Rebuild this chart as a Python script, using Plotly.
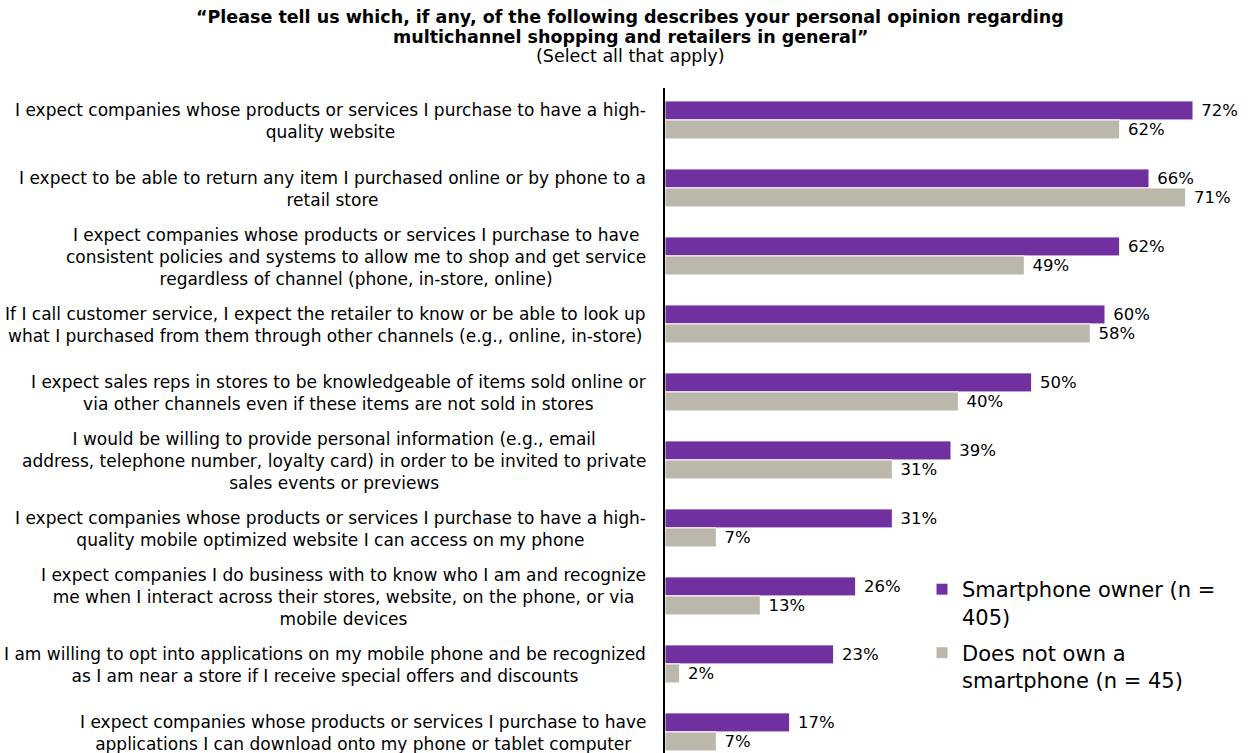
import plotly.graph_objects as go

# Survey statements (line breaks as laid out on the category axis)
statements = [
    "I expect companies whose products or services I purchase to have a high-<br>quality website",
    "I expect to be able to return any item I purchased online or by phone to a<br>retail store",
    "I expect companies whose products or services I purchase to have<br>consistent policies and systems to allow me to shop and get service<br>regardless of channel (phone, in-store, online)",
    "If I call customer service, I expect the retailer to know or be able to look up<br>what I purchased from them through other channels (e.g., online, in-store)",
    "I expect sales reps in stores to be knowledgeable of items sold online or<br>via other channels even if these items are not sold in stores",
    "I would be willing to provide personal information (e.g., email<br>address, telephone number, loyalty card) in order to be invited to private<br>sales events or previews",
    "I expect companies whose products or services I purchase to have a high-<br>quality mobile optimized website I can access on my phone",
    "I expect companies I do business with to know who I am and recognize<br>me when I interact across their stores, website, on the phone, or via<br>mobile devices",
    "I am willing to opt into applications on my mobile phone and be recognized<br>as I am near a store if I receive special offers and discounts",
    "I expect companies whose products or services I purchase to have<br>applications I can download onto my phone or tablet computer",
]

smartphone_owner = [72, 66, 62, 60, 50, 39, 31, 26, 23, 17]
no_smartphone = [62, 71, 49, 58, 40, 31, 7, 13, 2, 7]

series_names = ["Smartphone owner (n =<br>405)", "Does not own a<br>smartphone (n = 45)"]
series_colors = ["#7030A0", "#BBB8AB"]

title_lines = [
    "\u201cPlease tell us which, if any, of the following describes your personal opinion regarding",
    "multichannel shopping and retailers in general\u201d",
]
subtitle = "(Select all that apply)"

FONT = "DejaVu Sans"
W, H = 1255, 753
M_L, M_R, M_T, M_B = 665, 10, 88, 0
plot_w = W - M_L - M_R
plot_h = H - M_T - M_B

positions = list(range(len(statements)))

fig = go.Figure()
for k, (name, vals, color) in enumerate(zip(series_names, [smartphone_owner, no_smartphone], series_colors)):
    fig.add_trace(go.Bar(
        name=name,
        legendgroup=f"g{k}",
        y=positions,
        x=vals,
        orientation="h",
        marker=dict(color=color, line=dict(color="white", width=1)),
        text=[f" {v}%" for v in vals],
        textposition="outside",
        constraintext="none",
        cliponaxis=False,
        textfont=dict(family=FONT, size=16.5, color="#000000"),
        hoverinfo="skip",
    ))

# category labels, centred as blocks and right-aligned against the axis
for i, label in enumerate(statements):
    fig.add_annotation(
        x=0, y=i, xref="x", yref="y",
        text=label, showarrow=False,
        xanchor="right", yanchor="middle", align="center",
        xshift=-17, yshift=-1,
        font=dict(family=FONT, size=17, color="#000000"),
    )

# heading: two bold lines and a plain sub-line, one annotation per line
heading = [("<b>" + title_lines[0] + "</b>", 17.5),
           ("<b>" + title_lines[1] + "</b>", 37),
           (subtitle, 56)]
for text, y_px in heading:
    fig.add_annotation(
        x=(630 - M_L) / plot_w, y=1 + (M_T - y_px) / plot_h,
        xref="paper", yref="paper",
        xanchor="center", yanchor="middle",
        text=text, showarrow=False,
        font=dict(family=FONT, size=17.5, color="#000000"),
    )

fig.update_layout(
    width=W, height=H,
    margin=dict(l=M_L, r=M_R, t=M_T, b=M_B, pad=0),
    paper_bgcolor="white", plot_bgcolor="white",
    barmode="group", bargap=0.44, bargroupgap=0,
    showlegend=True,
    legend=dict(
        x=(922 - M_L) / plot_w, y=1 - (569 - M_T) / plot_h,
        xanchor="left", yanchor="top",
        font=dict(family=FONT, size=21, color="#000000"),
        valign="top", tracegroupgap=6,
        bgcolor="rgba(0,0,0,0)",
    ),
    xaxis=dict(range=[0, plot_w / (528 / 72)], visible=False, fixedrange=True),
    yaxis=dict(
        range=[9.31, -0.47], showticklabels=False, ticks="",
        showgrid=False, zeroline=False,
        showline=True, linecolor="#000000", linewidth=2,
        fixedrange=True,
    ),
)

fig.write_html("out.html")
